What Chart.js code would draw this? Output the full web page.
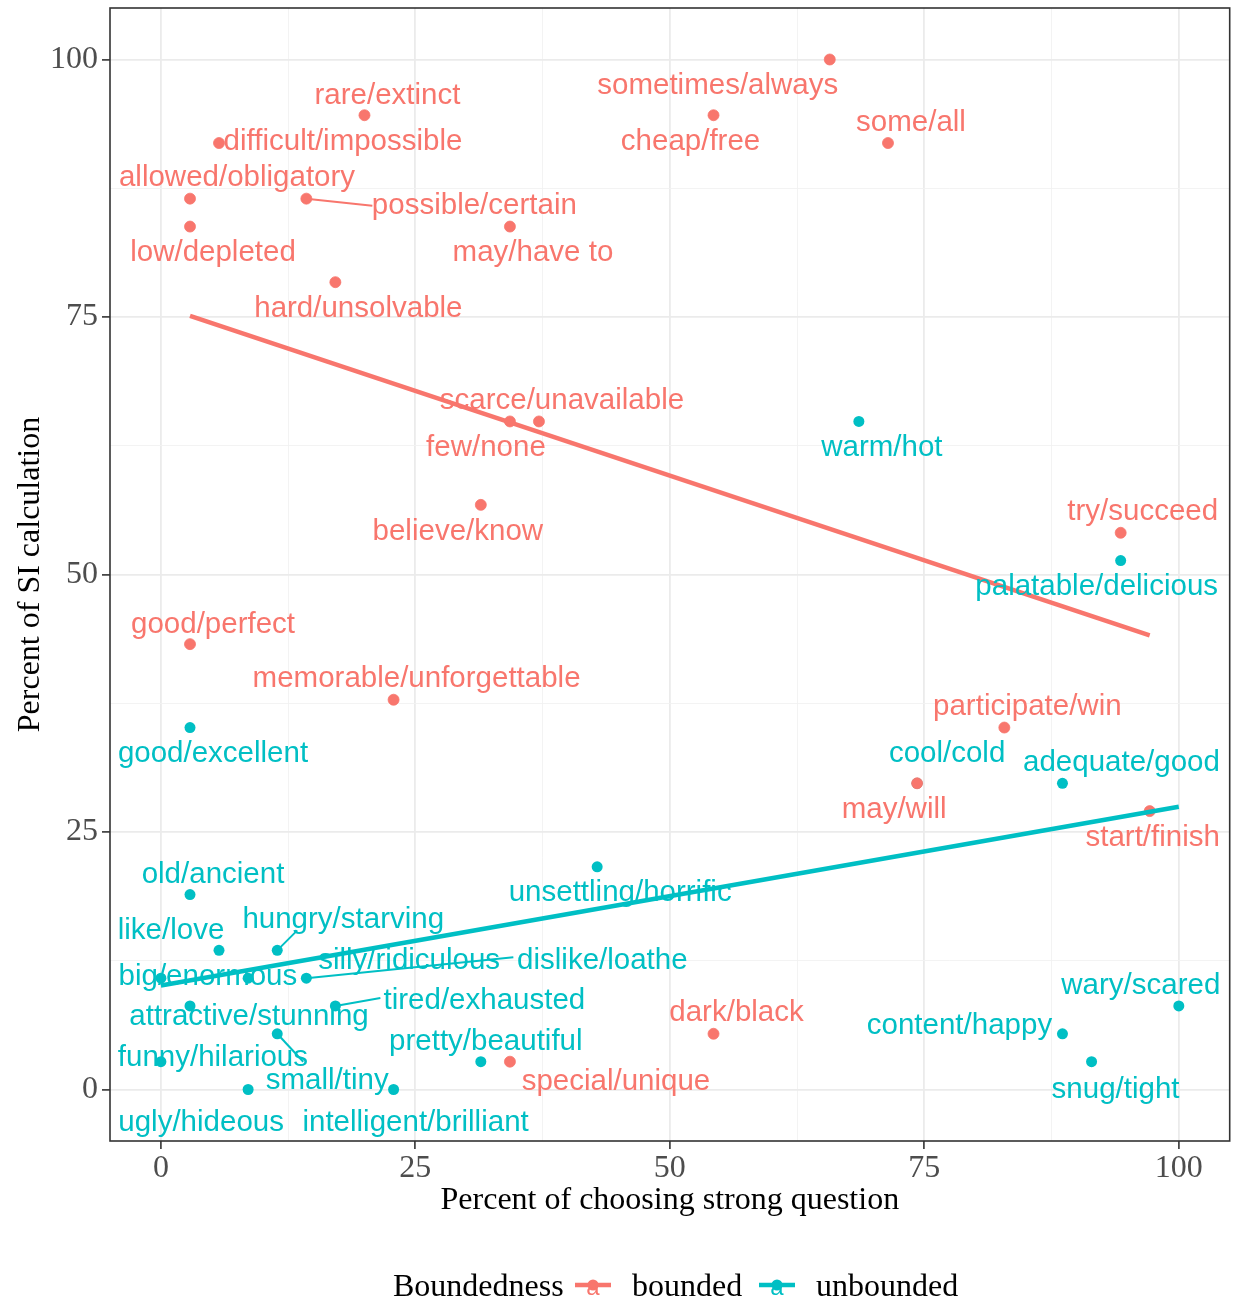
<!DOCTYPE html>
<html><head><meta charset="utf-8">
<script src="https://cdn.jsdelivr.net/npm/chart.js@4.4.1/dist/chart.umd.min.js"></script>
<style>html,body{margin:0;padding:0;background:#fff;}canvas{display:block;}</style>
</head><body>
<canvas id="c" width="1236" height="1302"></canvas>
<script>
// ---------- data ----------
const boundedWords = ['sometimes/always','rare/extinct','cheap/free','difficult/impossible','some/all','allowed/obligatory','possible/certain','low/depleted','may/have to','hard/unsolvable','scarce/unavailable','few/none','believe/know','try/succeed','good/perfect','memorable/unforgettable','participate/win','may/will','start/finish','dark/black','special/unique'];
const boundedX = [65.71,20.00,54.29,5.71,71.43,2.86,14.29,2.86,34.29,17.14,37.14,34.29,31.43,94.29,2.86,22.86,82.86,74.29,97.14,54.29,34.29];
const boundedY = [100,94.59,94.59,91.89,91.89,86.49,86.49,83.78,83.78,78.38,64.86,64.86,56.76,54.05,43.24,37.84,35.14,29.73,27.03,5.41,2.70];

const unboundedWords = ['warm/hot','palatable/delicious','good/excellent','cool/cold','adequate/good','unsettling/horrific','old/ancient','like/love','hungry/starving','big/enormous','silly/ridiculous','dislike/loathe','attractive/stunning','tired/exhausted','small/tiny','funny/hilarious','pretty/beautiful','ugly/hideous','intelligent/brilliant','wary/scared','content/happy','snug/tight'];
const unboundedX = [68.57,94.29,2.86,74.29,88.57,42.86,2.86,5.71,11.43,0,8.57,14.29,2.86,17.14,11.43,0,31.43,8.57,22.86,100,88.57,91.43];
const unboundedY = [64.86,51.35,35.14,29.73,29.73,21.62,18.92,13.51,13.51,10.81,10.81,10.81,8.11,8.11,5.41,2.70,2.70,0,0,8.11,5.41,2.70];

const boundedFitX = [2.86, 97.14];
const boundedFitY = [75.1, 44.1];
const unboundedFitX = [0, 100];
const unboundedFitY = [10.1, 27.45];

const majorTicks = [0, 25, 50, 75, 100];
const gridTicks = [0, 12.5, 25, 37.5, 50, 62.5, 75, 87.5, 100];
const xTitle = 'Percent of choosing strong question';
const yTitle = 'Percent of SI calculation';
const legendTitle = 'Boundedness';
const groupNames = ['bounded', 'unbounded'];

// ---------- label layout (pixel offsets from point) ----------
const boundedLabelOffsets = [[-112,24],[23,-22],[-23,24],[124,-4],[23,-23],[47,-23],[168,5],[23,24],[23,24],[23,24],[23,-23],[-24,24],[-23,24],[22,-23],[23,-22],[23,-23],[23,-23],[-23,24],[3,24],[23,-23],[106,18]];
const boundedSegEnds = {6:[66,7]};
const unboundedLabelOffsets = [[23,24],[-24,24],[23,24],[30,-32],[59,-23],[23,24],[23,-22],[-48,-22],[66,-33],[47,-4],[161,-20],[296,-20],[59,8],[149,-8],[50,45],[52,-6],[5,-22],[-47,31],[22,31],[-38,-23],[-103,-10],[24,26]];
const unboundedSegEnds = {8:[20,-20],11:[207,-21],13:[45,-8],14:[26,28]};
const labelShiftY = 2.5;

const RED = '#F8766D', TEAL = '#00BFC4';
const SERIF = "'Liberation Serif','Times New Roman',serif";
const SANS = "'Liberation Sans',Arial,sans-serif";

const zip = (xs, ys) => xs.map((x, i) => ({x, y: ys[i]}));

const labelPlugin = {
  id: 'labels',
  afterDatasetsDraw(chart) {
    const ctx = chart.ctx;
    const xs = chart.scales.x, ys = chart.scales.y;
    const groups = [
      {words: boundedWords, X: boundedX, Y: boundedY, off: boundedLabelOffsets, seg: boundedSegEnds, color: RED},
      {words: unboundedWords, X: unboundedX, Y: unboundedY, off: unboundedLabelOffsets, seg: unboundedSegEnds, color: TEAL}
    ];
    ctx.save();
    ctx.font = '29.5px ' + SANS;
    ctx.textAlign = 'center';
    ctx.textBaseline = 'middle';
    for (const g of groups) {
      ctx.strokeStyle = g.color;
      ctx.fillStyle = g.color;
      ctx.lineWidth = 2;
      g.words.forEach((w, i) => {
        const px = xs.getPixelForValue(g.X[i]);
        const py = ys.getPixelForValue(g.Y[i]);
        if (g.seg[i]) {
          ctx.beginPath();
          ctx.moveTo(px, py);
          ctx.lineTo(px + g.seg[i][0], py + g.seg[i][1]);
          ctx.stroke();
        }
        ctx.fillText(w, px + g.off[i][0], py + g.off[i][1] + labelShiftY);
      });
    }
    ctx.restore();
  },
  afterDraw(chart) {
    const ctx = chart.ctx;
    const a = chart.chartArea;
    ctx.save();
    ctx.strokeStyle = '#333333';
    ctx.lineWidth = 1.6;
    ctx.strokeRect(a.left, a.top, a.right - a.left, a.bottom - a.top);
    // legend
    const ly = 1285;
    ctx.fillStyle = '#000';
    ctx.font = '32px ' + SERIF;
    ctx.textBaseline = 'alphabetic';
    ctx.textAlign = 'left';
    ctx.fillText(legendTitle, 393, 1296);
    const keys = [{cx: 593, color: RED, tx: 632, name: groupNames[0]}, {cx: 777, color: TEAL, tx: 816, name: groupNames[1]}];
    for (const k of keys) {
      ctx.fillStyle = k.color;
      ctx.beginPath(); ctx.arc(k.cx, ly, 5.5, 0, Math.PI * 2); ctx.fill();
      ctx.strokeStyle = k.color; ctx.lineWidth = 4.5;
      ctx.beginPath(); ctx.moveTo(k.cx - 18, ly); ctx.lineTo(k.cx + 18, ly); ctx.stroke();
      ctx.font = '24px ' + SANS;
      ctx.textAlign = 'center'; ctx.textBaseline = 'middle';
      ctx.fillText('a', k.cx, ly + 3);
      ctx.fillStyle = '#000';
      ctx.font = '32px ' + SERIF;
      ctx.textAlign = 'left'; ctx.textBaseline = 'alphabetic';
      ctx.fillText(k.name, k.tx, 1296);
    }
    ctx.restore();
  }
};

const isMajor = v => majorTicks.includes(v);
const gridOpts = {
  color: ctx => isMajor(ctx.tick && ctx.tick.value) ? '#EBEBEB' : '#F2F2F2',
  lineWidth: ctx => isMajor(ctx.tick && ctx.tick.value) ? 1.8 : 0.9,
  tickColor: ctx => isMajor(ctx.tick && ctx.tick.value) ? '#333333' : 'rgba(0,0,0,0)',
  tickLength: 8,
  tickWidth: 1.6,
  drawTicks: true
};
const noPad = s => { s.paddingTop = 0; s.paddingBottom = 0; s.paddingLeft = 0; s.paddingRight = 0; };

new Chart(document.getElementById('c'), {
  type: 'scatter',
  data: {
    datasets: [
      {type: 'line', label: 'fitB', data: zip(boundedFitX, boundedFitY), borderColor: RED, borderWidth: 4.5, pointRadius: 0, fill: false, order: 0},
      {type: 'line', label: 'fitU', data: zip(unboundedFitX, unboundedFitY), borderColor: TEAL, borderWidth: 4.5, pointRadius: 0, fill: false, order: 0},
      {label: groupNames[0], data: zip(boundedX, boundedY), backgroundColor: RED, borderColor: RED, pointRadius: 5.5, borderWidth: 0.8, order: 1},
      {label: groupNames[1], data: zip(unboundedX, unboundedY), backgroundColor: TEAL, borderColor: TEAL, pointRadius: 5.5, borderWidth: 0, order: 2}
    ]
  },
  options: {
    responsive: false,
    animation: false,
    events: [],
    layout: {padding: {top: 8, right: 5, left: 0, bottom: 81}},
    plugins: {legend: {display: false}, tooltip: {enabled: false}},
    scales: {
      x: {
        type: 'linear', min: -5, max: 105,
        afterBuildTicks: s => { s.ticks = gridTicks.map(v => ({value: v})); },
        afterFit: s => { s.height = 80; noPad(s); },
        grid: gridOpts,
        border: {display: false},
        ticks: {autoSkip: false, maxRotation: 0, padding: 0, color: '#4D4D4D', font: {family: SERIF, size: 32},
          callback: v => isMajor(v) ? String(v) : ''},
        title: {display: true, text: xTitle, color: '#000', font: {family: SERIF, size: 32}, padding: {top: 0, bottom: 1}}
      },
      y: {
        type: 'linear', min: -5, max: 105,
        afterBuildTicks: s => { s.ticks = gridTicks.map(v => ({value: v})); },
        afterFit: s => { s.width = 110; noPad(s); },
        grid: gridOpts,
        border: {display: false},
        ticks: {autoSkip: false, padding: 4, color: '#4D4D4D', font: {family: SERIF, size: 32},
          callback: v => isMajor(v) ? String(v) : ''},
        title: {display: true, text: yTitle, color: '#000', font: {family: SERIF, size: 32}, padding: {top: 11, bottom: 0}}
      }
    }
  },
  plugins: [labelPlugin]
});
</script>
</body></html>
